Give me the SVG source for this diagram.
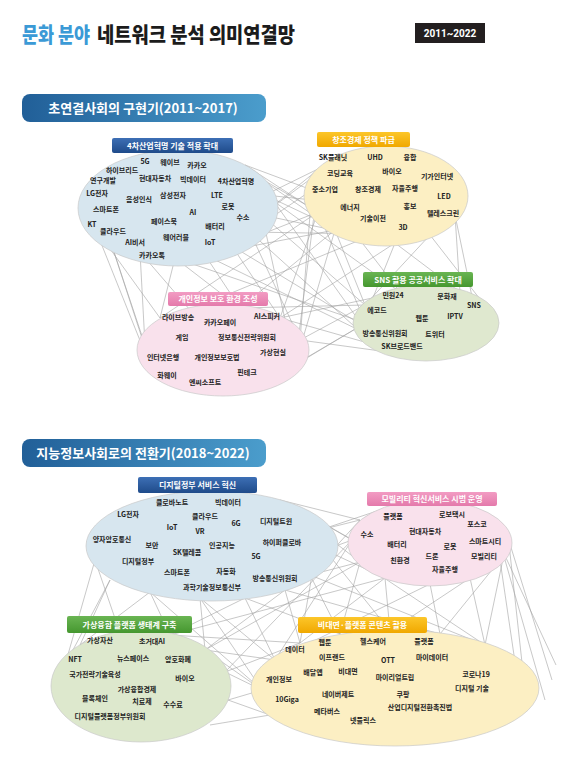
<svg xmlns="http://www.w3.org/2000/svg" width="583" height="758" viewBox="0 0 583 758">
<defs>
<linearGradient id="gBanner" x1="0" x2="1" y1="0" y2="0"><stop offset="0" stop-color="#215f98"/><stop offset="1" stop-color="#4b9dcc"/></linearGradient>
<linearGradient id="gBlue" x1="0" x2="0" y1="0" y2="1"><stop offset="0" stop-color="#3d6fb5"/><stop offset="1" stop-color="#1f4b8a"/></linearGradient>
<linearGradient id="gYel" x1="0" x2="0" y1="0" y2="1"><stop offset="0" stop-color="#fcc62a"/><stop offset="1" stop-color="#f0a800"/></linearGradient>
<linearGradient id="gGrn" x1="0" x2="0" y1="0" y2="1"><stop offset="0" stop-color="#6ab553"/><stop offset="1" stop-color="#45972f"/></linearGradient>
<linearGradient id="gPnk" x1="0" x2="0" y1="0" y2="1"><stop offset="0" stop-color="#f29cc3"/><stop offset="1" stop-color="#e47aab"/></linearGradient>
</defs>
<style>
.ttl{font-family:"Noto Sans CJK KR","Noto Sans",sans-serif;font-weight:900;font-size:21px}
.ban{font-family:"Noto Sans CJK KR","Noto Sans",sans-serif;font-weight:700;font-size:13px;fill:#fff;text-anchor:middle}
.hd{font-family:"Noto Sans CJK KR","Noto Sans",sans-serif;font-weight:700;font-size:8px;fill:#fff;text-anchor:middle}
.w{font-family:"Noto Sans CJK KR","Noto Sans",sans-serif;font-weight:700;font-size:7px;fill:#222;text-anchor:middle}
.el{stroke:#c9c9c9;stroke-width:0.7}
.cn line{stroke:#a3a3a3;stroke-width:0.6}
</style>
<rect width="583" height="758" fill="#fff"/>
<g id="title">
<text class="ttl" x="22" y="42" fill="#3b9ad6" textLength="68" lengthAdjust="spacingAndGlyphs">문화 분야</text>
<text class="ttl" x="97" y="42" fill="#1c1c1c" textLength="198" lengthAdjust="spacingAndGlyphs">네트워크 분석 의미연결망</text>
<rect x="415" y="23" width="70" height="20" fill="#231f20"/>
<text x="450" y="37" font-family="Roboto,'Liberation Sans',sans-serif" font-weight="700" font-size="10" fill="#fff" text-anchor="middle">2011~2022</text>
</g>
<g id="banner1">
<rect x="22" y="94" width="244" height="28" rx="8" fill="url(#gBanner)"/>
<text class="ban" x="143" y="113">초연결사회의 구현기(2011~2017)</text>
</g>
<g id="banner2">
<rect x="22" y="439" width="244" height="28" rx="8" fill="url(#gBanner)"/>
<text class="ban" x="143" y="458">지능정보사회로의 전환기(2018~2022)</text>
</g>
<g id="connectors" class="cn">
<line x1="245" y1="165" x2="312" y2="190"/><line x1="255" y1="175" x2="318" y2="212"/><line x1="255" y1="175" x2="335" y2="230"/><line x1="265" y1="195" x2="320" y2="168"/><line x1="265" y1="195" x2="360" y2="240"/><line x1="262" y1="215" x2="320" y2="168"/><line x1="262" y1="215" x2="395" y2="243"/><line x1="250" y1="232" x2="312" y2="190"/><line x1="250" y1="232" x2="430" y2="235"/><line x1="232" y1="246" x2="318" y2="212"/><line x1="245" y1="165" x2="360" y2="240"/><line x1="265" y1="195" x2="455" y2="215"/><line x1="205" y1="255" x2="335" y2="230"/><line x1="262" y1="215" x2="340" y2="157"/>
<line x1="262" y1="215" x2="365" y2="305"/><line x1="250" y1="232" x2="375" y2="345"/><line x1="232" y1="246" x2="362" y2="325"/><line x1="205" y1="255" x2="410" y2="355"/><line x1="265" y1="195" x2="400" y2="292"/><line x1="255" y1="175" x2="362" y2="325"/><line x1="175" y1="258" x2="450" y2="352"/>
<line x1="175" y1="258" x2="160" y2="318"/><line x1="140" y1="252" x2="190" y2="310"/><line x1="110" y1="240" x2="145" y2="345"/><line x1="95" y1="228" x2="160" y2="318"/><line x1="232" y1="246" x2="280" y2="318"/><line x1="205" y1="255" x2="240" y2="308"/><line x1="250" y1="232" x2="300" y2="340"/><line x1="140" y1="252" x2="145" y2="345"/><line x1="110" y1="240" x2="155" y2="378"/><line x1="175" y1="258" x2="240" y2="308"/><line x1="262" y1="215" x2="295" y2="365"/><line x1="95" y1="228" x2="155" y2="378"/>
<line x1="360" y1="240" x2="400" y2="292"/><line x1="395" y1="243" x2="460" y2="292"/><line x1="430" y1="235" x2="490" y2="312"/><line x1="455" y1="215" x2="480" y2="335"/><line x1="335" y1="230" x2="365" y2="305"/><line x1="395" y1="243" x2="362" y2="325"/><line x1="455" y1="215" x2="460" y2="292"/><line x1="318" y1="212" x2="375" y2="345"/><line x1="430" y1="235" x2="365" y2="305"/>
<line x1="318" y1="212" x2="280" y2="318"/><line x1="335" y1="230" x2="240" y2="308"/><line x1="312" y1="190" x2="300" y2="340"/><line x1="360" y1="240" x2="190" y2="310"/><line x1="320" y1="168" x2="295" y2="365"/><line x1="395" y1="243" x2="280" y2="318"/><line x1="318" y1="212" x2="160" y2="318"/><line x1="335" y1="230" x2="295" y2="365"/>
<line x1="365" y1="305" x2="300" y2="340"/><line x1="362" y1="325" x2="295" y2="365"/><line x1="375" y1="345" x2="280" y2="318"/><line x1="365" y1="305" x2="240" y2="308"/><line x1="410" y1="355" x2="300" y2="340"/><line x1="362" y1="325" x2="260" y2="385"/><line x1="400" y1="292" x2="280" y2="318"/>
<line x1="300" y1="510" x2="352" y2="540"/><line x1="320" y1="530" x2="360" y2="520"/><line x1="325" y1="550" x2="385" y2="578"/><line x1="280" y1="500" x2="360" y2="562"/><line x1="310" y1="575" x2="360" y2="520"/><line x1="320" y1="530" x2="395" y2="505"/><line x1="325" y1="550" x2="352" y2="540"/><line x1="300" y1="510" x2="430" y2="584"/><line x1="310" y1="575" x2="360" y2="562"/><line x1="280" y1="500" x2="360" y2="520"/>
<line x1="110" y1="580" x2="80" y2="645"/><line x1="95" y1="560" x2="120" y2="633"/><line x1="150" y1="592" x2="170" y2="635"/><line x1="110" y1="580" x2="65" y2="665"/><line x1="200" y1="598" x2="205" y2="650"/><line x1="150" y1="592" x2="80" y2="645"/><line x1="95" y1="560" x2="65" y2="665"/><line x1="245" y1="598" x2="170" y2="635"/><line x1="285" y1="590" x2="205" y2="650"/>
<line x1="285" y1="590" x2="300" y2="643"/><line x1="245" y1="598" x2="275" y2="660"/><line x1="310" y1="575" x2="340" y2="634"/><line x1="200" y1="598" x2="262" y2="690"/><line x1="325" y1="550" x2="390" y2="631"/><line x1="285" y1="590" x2="440" y2="634"/><line x1="310" y1="575" x2="485" y2="645"/><line x1="245" y1="598" x2="340" y2="634"/><line x1="320" y1="530" x2="300" y2="643"/><line x1="200" y1="598" x2="275" y2="660"/><line x1="150" y1="592" x2="262" y2="690"/>
<line x1="360" y1="562" x2="340" y2="634"/><line x1="385" y1="578" x2="390" y2="631"/><line x1="430" y1="584" x2="440" y2="634"/><line x1="470" y1="578" x2="485" y2="645"/><line x1="500" y1="560" x2="515" y2="662"/><line x1="508" y1="535" x2="525" y2="690"/><line x1="385" y1="578" x2="300" y2="643"/><line x1="470" y1="578" x2="390" y2="631"/><line x1="430" y1="584" x2="275" y2="660"/><line x1="508" y1="535" x2="485" y2="645"/><line x1="500" y1="560" x2="440" y2="634"/><line x1="360" y1="562" x2="485" y2="645"/><line x1="352" y1="540" x2="275" y2="660"/><line x1="505" y1="528" x2="552" y2="680"/><line x1="495" y1="525" x2="545" y2="700"/><line x1="500" y1="545" x2="556" y2="665"/>
<line x1="205" y1="650" x2="275" y2="660"/><line x1="225" y1="672" x2="262" y2="690"/><line x1="228" y1="700" x2="270" y2="715"/><line x1="225" y1="672" x2="300" y2="643"/><line x1="205" y1="650" x2="262" y2="690"/><line x1="228" y1="700" x2="262" y2="690"/><line x1="210" y1="725" x2="270" y2="715"/><line x1="170" y1="635" x2="300" y2="643"/>
<line x1="360" y1="562" x2="205" y2="650"/><line x1="385" y1="578" x2="170" y2="635"/><line x1="352" y1="540" x2="225" y2="672"/>
</g>
<g id="n-ict">
<ellipse class="el" cx="178" cy="208" rx="100" ry="58" fill="#d7e6ef"/>
<rect x="112" y="138" width="121" height="15" rx="2" fill="url(#gBlue)"/>
<text class="hd" x="172.5" y="148.5">4차산업혁명 기술 적용 확대</text>
<text class="w" x="145" y="164">5G</text><text class="w" x="170" y="165">웨이브</text><text class="w" x="197" y="168">카카오</text>
<text class="w" x="122" y="173">하이브리드</text><text class="w" x="103" y="183">연구개발</text><text class="w" x="155" y="181">현대자동차</text>
<text class="w" x="193" y="182">빅데이터</text><text class="w" x="236" y="184">4차산업혁명</text><text class="w" x="97" y="196">LG전자</text>
<text class="w" x="139" y="202">음성인식</text><text class="w" x="173" y="198">삼성전자</text><text class="w" x="217" y="198">LTE</text>
<text class="w" x="106" y="212">스마트폰</text><text class="w" x="228" y="209">로봇</text><text class="w" x="193" y="215">AI</text>
<text class="w" x="243" y="220">수소</text><text class="w" x="92" y="227">KT</text><text class="w" x="164" y="224">페이스북</text>
<text class="w" x="113" y="234">클라우드</text><text class="w" x="215" y="229">배터리</text><text class="w" x="176" y="240">웨어러블</text>
<text class="w" x="135" y="245">AI비서</text><text class="w" x="210" y="245">IoT</text><text class="w" x="152" y="258">카카오톡</text>
</g>
<g id="n-creative">
<ellipse class="el" cx="386" cy="196" rx="82" ry="50" fill="#fcefc3"/>
<rect x="317" y="132" width="93" height="15" rx="2" fill="url(#gYel)"/>
<text class="hd" x="363.5" y="142.5">창조경제 정책 파급</text>
<text class="w" x="333" y="160">SK플래닛</text><text class="w" x="375" y="160">UHD</text><text class="w" x="410" y="160">융합</text>
<text class="w" x="340" y="176">코딩교육</text><text class="w" x="392" y="174">바이오</text><text class="w" x="437" y="179">기가인터넷</text>
<text class="w" x="325" y="192">중소기업</text><text class="w" x="368" y="192">창조경제</text><text class="w" x="405" y="191">자율주행</text>
<text class="w" x="444" y="199">LED</text><text class="w" x="350" y="210">에너지</text><text class="w" x="410" y="209">홍보</text>
<text class="w" x="443" y="216">텔레스크린</text><text class="w" x="373" y="221">기술이전</text><text class="w" x="403" y="230">3D</text>
</g>
<g id="n-sns">
<ellipse class="el" cx="426" cy="323" rx="73" ry="38" fill="#dfe8cf"/>
<rect x="363" y="272" width="110" height="15" rx="2" fill="url(#gGrn)"/>
<text class="hd" x="418" y="282.5">SNS 활용 공공서비스 확대</text>
<text class="w" x="393" y="298">민원24</text><text class="w" x="447" y="299">문화재</text><text class="w" x="474" y="308">SNS</text>
<text class="w" x="377" y="313">에코드</text><text class="w" x="422" y="321">웹툰</text><text class="w" x="455" y="319">IPTV</text>
<text class="w" x="385" y="336">방송통신위원회</text><text class="w" x="435" y="337">트위터</text><text class="w" x="402" y="349">SK브로드밴드</text>
</g>
<g id="n-privacy">
<ellipse class="el" cx="223" cy="350" rx="86" ry="46" fill="#f9e1ec"/>
<rect x="168" y="292" width="100" height="14" rx="2" fill="url(#gPnk)"/>
<text class="hd" x="218" y="302">개인정보 보호 환경 조성</text>
<text class="w" x="178" y="320">라이브방송</text><text class="w" x="220" y="325">카카오페이</text><text class="w" x="267" y="319">AI스피커</text>
<text class="w" x="182" y="340">게임</text><text class="w" x="247" y="340">정보통신전략위원회</text>
<text class="w" x="163" y="360">인터넷은행</text><text class="w" x="217" y="360">개인정보보호법</text><text class="w" x="273" y="355">가상현실</text>
<text class="w" x="167" y="378">화웨이</text><text class="w" x="247" y="375">핀테크</text><text class="w" x="205" y="385">엔씨소프트</text>
</g>
<g id="n-digital-gov">
<ellipse class="el" cx="212" cy="546" rx="126" ry="55" fill="#d7e6ef"/>
<rect x="138" y="477" width="119" height="16" rx="2" fill="url(#gBlue)"/>
<text class="hd" x="197.5" y="488">디지털정부 서비스 혁신</text>
<text class="w" x="172" y="505">클로바노트</text><text class="w" x="228" y="505">빅데이터</text><text class="w" x="128" y="517">LG전자</text>
<text class="w" x="205" y="519">클라우드</text><text class="w" x="172" y="530">IoT</text><text class="w" x="236" y="526">6G</text>
<text class="w" x="276" y="524">디지털트윈</text><text class="w" x="200" y="534">VR</text><text class="w" x="112" y="542">양자암호통신</text>
<text class="w" x="152" y="548">보안</text><text class="w" x="222" y="548">인공지능</text><text class="w" x="282" y="545">하이퍼클로바</text>
<text class="w" x="187" y="555">SK텔레콤</text><text class="w" x="256" y="559">5G</text><text class="w" x="138" y="564">디지털정부</text>
<text class="w" x="177" y="575">스마트폰</text><text class="w" x="226" y="574">자동화</text><text class="w" x="275" y="581">방송통신위원회</text>
<text class="w" x="212" y="590">과학기술정보통신부</text>
</g>
<g id="n-mobility">
<ellipse class="el" cx="430" cy="543" rx="82" ry="43" fill="#f9e1ec"/>
<rect x="367" y="492" width="130" height="14" rx="2" fill="url(#gPnk)"/>
<text class="hd" x="432" y="502">모빌리티 혁신서비스 시범 운영</text>
<text class="w" x="393" y="519">플랫폼</text><text class="w" x="452" y="517">로보택시</text><text class="w" x="477" y="527">포스코</text>
<text class="w" x="367" y="537">수소</text><text class="w" x="425" y="534">현대자동차</text><text class="w" x="485" y="544">스마트시티</text>
<text class="w" x="397" y="547">배터리</text><text class="w" x="450" y="549">로봇</text><text class="w" x="432" y="559">드론</text>
<text class="w" x="484" y="559">모빌리티</text><text class="w" x="400" y="563">친환경</text><text class="w" x="445" y="572">자율주행</text>
</g>
<g id="n-virtual">
<ellipse class="el" cx="141" cy="686" rx="90" ry="56" fill="#dde8cd"/>
<rect x="67" y="616" width="125" height="17" rx="2" fill="url(#gGrn)"/>
<text class="hd" x="129.5" y="627.5">가상융합 플랫폼 생태계 구축</text>
<text class="w" x="100" y="643">가상자산</text><text class="w" x="152" y="644">초거대AI</text><text class="w" x="75" y="662">NFT</text>
<text class="w" x="133" y="661">뉴스페이스</text><text class="w" x="178" y="662">암호화폐</text><text class="w" x="95" y="677">국가전략기술육성</text>
<text class="w" x="185" y="681">바이오</text><text class="w" x="137" y="692">가상융합경제</text><text class="w" x="95" y="701">블록체인</text>
<text class="w" x="142" y="704">치료제</text><text class="w" x="173" y="707">수수료</text><text class="w" x="110" y="719">디지털플랫폼정부위원회</text>
</g>
<g id="n-contactless">
<ellipse class="el" cx="395" cy="688" rx="144" ry="58" fill="#fcefc3"/>
<rect x="298" y="617" width="129" height="16" rx="2" fill="url(#gYel)"/>
<text class="hd" x="362.5" y="628">비대면·플랫폼 콘텐츠 활용</text>
<text class="w" x="295" y="652">데이터</text><text class="w" x="325" y="645">웹툰</text><text class="w" x="373" y="644">헬스케어</text>
<text class="w" x="424" y="644">플랫폼</text><text class="w" x="332" y="660">이프랜드</text><text class="w" x="388" y="663">OTT</text>
<text class="w" x="432" y="660">마이데이터</text><text class="w" x="279" y="682">개인정보</text><text class="w" x="313" y="675">배달앱</text>
<text class="w" x="348" y="674">비대면</text><text class="w" x="395" y="680">마이리얼트립</text><text class="w" x="476" y="677">코로나19</text>
<text class="w" x="472" y="691">디지털 기술</text><text class="w" x="287" y="702">10Giga</text><text class="w" x="338" y="697">네이버제트</text>
<text class="w" x="403" y="697">쿠팡</text><text class="w" x="327" y="714">메타버스</text><text class="w" x="420" y="710">산업디지털전환촉진법</text>
<text class="w" x="363" y="723">넷플릭스</text>
</g>
</svg>
